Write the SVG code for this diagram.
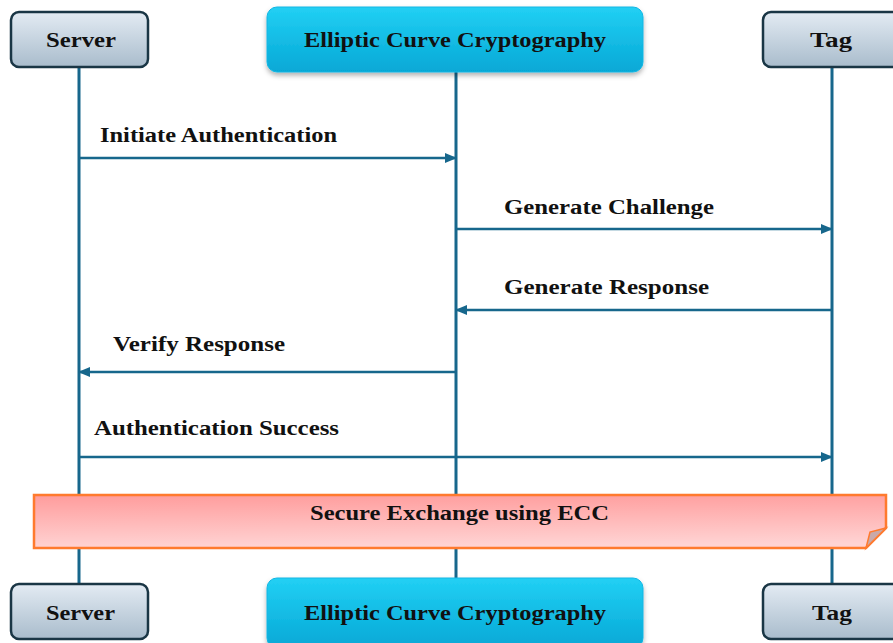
<svg xmlns="http://www.w3.org/2000/svg" width="893" height="643" viewBox="0 0 893 643">
<defs>
<linearGradient id="gGray" x1="0" y1="0" x2="0" y2="1">
<stop offset="0" stop-color="#e3ebf3"/><stop offset="1" stop-color="#a9bccc"/>
</linearGradient>
<linearGradient id="gCyan" x1="0" y1="0" x2="0" y2="1">
<stop offset="0" stop-color="#22d0f4"/><stop offset="1" stop-color="#06a8d6"/>
</linearGradient>
<linearGradient id="gPink" x1="0" y1="0" x2="0.1" y2="1">
<stop offset="0" stop-color="#ff9c9c"/><stop offset="1" stop-color="#ffd3d3"/>
</linearGradient>
<filter id="sh" x="-10%" y="-20%" width="120%" height="150%">
<feDropShadow dx="0" dy="3" stdDeviation="2.5" flood-color="#000" flood-opacity="0.3"/>
</filter>
<marker id="ah" markerWidth="12" markerHeight="10" refX="11" refY="5" orient="auto" markerUnits="userSpaceOnUse">
<path d="M0,0 L12,5 L0,10 Z" fill="#17678c"/>
</marker>
</defs>
<style>
.t{font-family:"Liberation Serif","Times New Roman",serif;font-weight:bold;font-size:20px;fill:#111;}
.life{stroke:#17678c;stroke-width:3;fill:none;}
.msg{stroke:#17678c;stroke-width:2.5;fill:none;marker-end:url(#ah);}
.gray{fill:url(#gGray);stroke:#1a3645;stroke-width:2.5;}
.cyan{fill:url(#gCyan);stroke:#12b6e3;stroke-width:1;filter:url(#sh);}
</style>
<rect width="893" height="643" fill="#fff"/>
<g id="lifelines">
<line class="life" x1="79" y1="67" x2="79" y2="584"/>
<line class="life" x1="456" y1="72" x2="456" y2="578"/>
<line class="life" x1="832" y1="67" x2="832" y2="584"/>
</g>
<g id="connectors">
<line class="msg" x1="79" y1="158" x2="456" y2="158"/>
<line class="msg" x1="456" y1="229" x2="832" y2="229"/>
<line class="msg" x1="832" y1="310" x2="456" y2="310"/>
<line class="msg" x1="456" y1="372" x2="79" y2="372"/>
<line class="msg" x1="79" y1="457" x2="832" y2="457"/>
<text class="t" x="100" y="142" textLength="237" lengthAdjust="spacingAndGlyphs">Initiate Authentication</text>
<text class="t" x="504" y="214" textLength="210" lengthAdjust="spacingAndGlyphs">Generate Challenge</text>
<text class="t" x="504" y="294" textLength="205" lengthAdjust="spacingAndGlyphs">Generate Response</text>
<text class="t" x="113" y="351" textLength="172" lengthAdjust="spacingAndGlyphs">Verify Response</text>
<text class="t" x="94" y="435" textLength="245" lengthAdjust="spacingAndGlyphs">Authentication Success</text>
</g>
<g id="note">
<path d="M34,495 H886 V528 L866,548 H34 Z" fill="url(#gPink)" stroke="#ff7a2e" stroke-width="2.5"/>
<path d="M866,548 L870,532 L886,528 Z" fill="#c9a9a9" stroke="#ff7a2e" stroke-width="1.5"/>
<text class="t" x="310" y="520" textLength="299" lengthAdjust="spacingAndGlyphs">Secure Exchange using ECC</text>
</g>
<g id="server-top">
<rect class="gray" x="11" y="12" width="137" height="55" rx="8"/>
<text class="t" x="46" y="47" textLength="70" lengthAdjust="spacingAndGlyphs">Server</text>
</g>
<g id="ecc-top">
<rect class="cyan" x="267" y="7" width="376" height="65" rx="10"/>
<text class="t" x="304" y="47" textLength="302" lengthAdjust="spacingAndGlyphs">Elliptic Curve Cryptography</text>
</g>
<g id="tag-top">
<rect class="gray" x="763" y="12" width="138" height="55" rx="8"/>
<text class="t" x="810" y="47" textLength="42" lengthAdjust="spacingAndGlyphs">Tag</text>
</g>
<g id="server-bottom">
<rect class="gray" x="11" y="584" width="137" height="55" rx="8"/>
<text class="t" x="46" y="620" textLength="69" lengthAdjust="spacingAndGlyphs">Server</text>
</g>
<g id="ecc-bottom">
<rect class="cyan" x="267" y="578" width="376" height="70" rx="10"/>
<text class="t" x="304" y="620" textLength="302" lengthAdjust="spacingAndGlyphs">Elliptic Curve Cryptography</text>
</g>
<g id="tag-bottom">
<rect class="gray" x="763" y="584" width="138" height="55" rx="8"/>
<text class="t" x="812" y="620" textLength="40" lengthAdjust="spacingAndGlyphs">Tag</text>
</g>
</svg>
